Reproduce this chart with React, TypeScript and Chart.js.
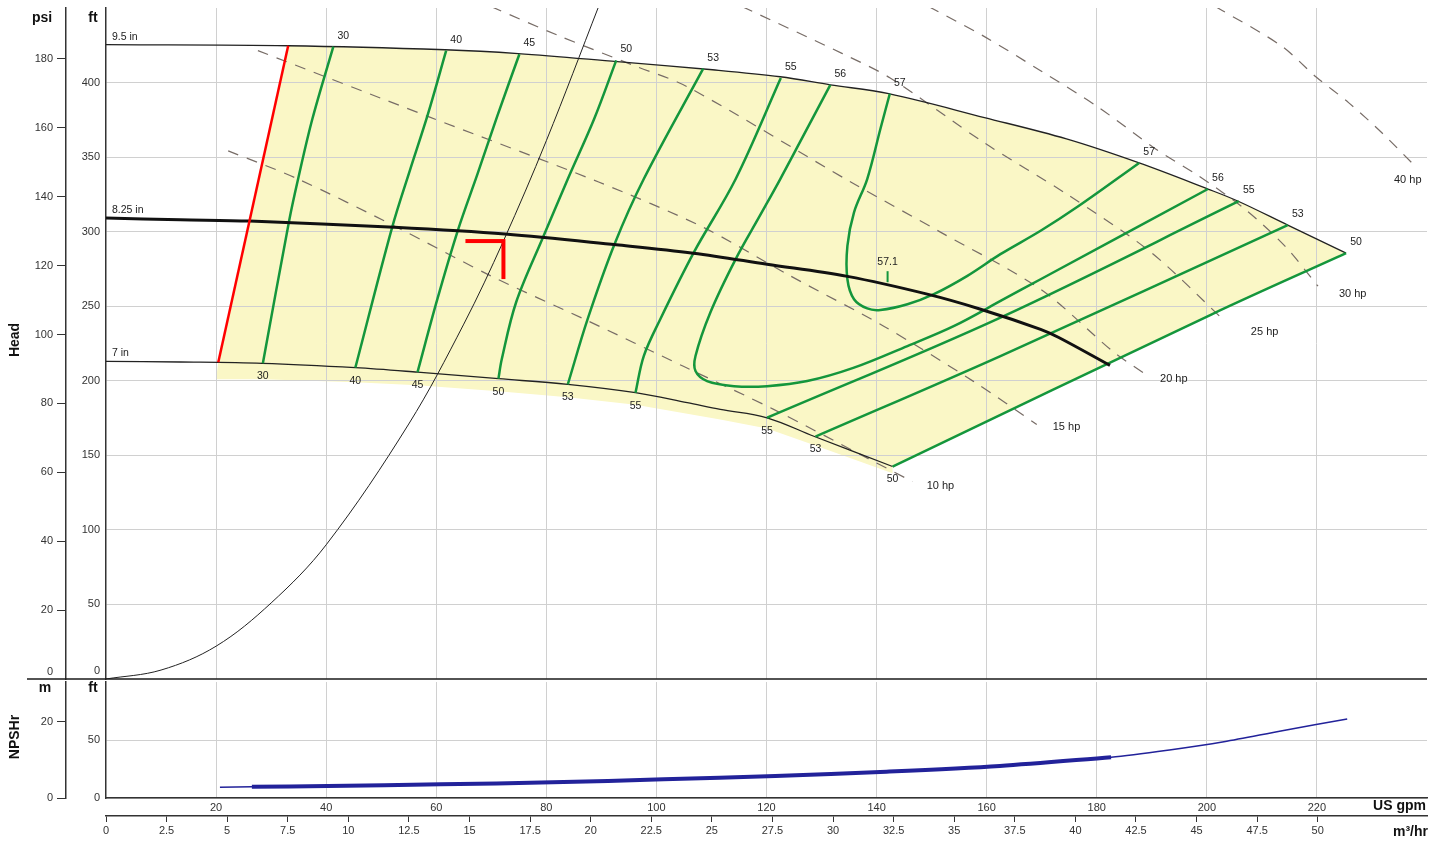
import React, { useEffect, useRef } from 'react';
import { Chart, registerables } from 'chart.js';

Chart.register(...registerables);

type P = [number, number];

// ---------- unit conversions ----------
const FT_PER_PSI = 2.31;
const FT_PER_M = 3.281;
const M3H_PER_GPM = 0.22712;

// ---------- axis ranges & ticks ----------
const FLOW_MAX = 240; // US gpm
const HEAD_MAX = 450; // ft
const NPSH_MAX = 100; // ft
const gpmTicks = [20, 40, 60, 80, 100, 120, 140, 160, 180, 200, 220];
const ftTicks = [50, 100, 150, 200, 250, 300, 350, 400];
const psiTicks = [20, 40, 60, 80, 100, 120, 140, 160, 180];
const npshFtTicks = [0, 50];
const npshMTicks = [0, 20];
const m3hTicks = [0, 2.5, 5, 7.5, 10, 12.5, 15, 17.5, 20, 22.5, 25, 27.5, 30, 32.5, 35, 37.5, 40, 42.5, 45, 47.5, 50];

// ---------- head curves (gpm, ft) ----------
const head95: P[] = [[0, 425.4], [33.1, 424.7], [61.6, 422.0], [74.9, 419.4], [92.9, 414.0], [110.2, 408.6], [122.5, 403.9], [131.6, 398.5], [142.2, 392.5], [159.6, 376.5], [174.5, 362.2], [187.7, 346.1], [200.2, 328.6], [205.7, 320.4], [214.7, 304.4], [225.3, 285.6]];
const head825: P[] = [[0, 309.1], [13.5, 308.0], [26.1, 307.1], [52.4, 302.9], [72.5, 298.4], [92.7, 291.2], [106.7, 285.6], [120.1, 278.2], [134.7, 270.0], [149.2, 258.1], [158.9, 248.0], [169.8, 234.5], [173.1, 229.0], [182.4, 210.3]];
const head7: P[] = [[0, 213.0], [13.5, 212.6], [28.4, 211.7], [45.3, 208.8], [56.6, 205.8], [71.3, 201.4], [83.9, 197.6], [96.2, 192.0], [105.6, 185.3], [111.6, 180.8], [120.1, 175.2], [128.6, 162.8], [142.9, 142.5]];
const headNames = ['9.5 in', '8.25 in', '7 in'];

// minimum flow line
const minFlow: P[] = [[20.4, 212.4], [33.1, 424.7]];
// lower edge of the shaded region
const regionLower: P[] = [[142.9, 138], [128.6, 157], [120.1, 168], [111.6, 174], [96.2, 184], [83.9, 189], [71.3, 193], [56.6, 197], [45.3, 199], [28.4, 201], [20.0, 201]];

// system curve
const systemCurve: P[] = [[0, 0], [10, 6], [20, 22], [30, 51], [40, 90], [55, 171], [65, 238], [72.2, 293.7], [80, 361], [89.5, 451]];
// duty point
const duty: P[] = [[72.2, 293.7]];
// BEP marker
const bepTick: P[] = [[142.0, 266.1], [142.0, 273.5]];
const bepLabel = '57.1';

// ---------- efficiency lines (%) ----------
const eff30: P[] = [[28.5, 211.7], [33.3, 307.8], [34.9, 335.3], [37.5, 375.7], [41.3, 424.1]];
const eff40: P[] = [[45.3, 208.8], [52.0, 303.1], [55.3, 342.1], [58.5, 379.0], [61.8, 421.4]];
const eff45: P[] = [[56.6, 205.8], [60.2, 254.7], [64.0, 301.7], [67.5, 338.7], [71.1, 377.7], [75.1, 419.0]];
const eff50L: P[] = [[71.3, 201.4], [71.9, 214.4], [74.5, 252.5], [79.4, 296.2], [83.9, 335.3], [88.7, 375.7], [92.7, 414.9]];
const eff53L: P[] = [[83.9, 197.6], [87.5, 241.3], [92.4, 291.7], [97.7, 335.3], [108.5, 409.3]];
const eff55L: P[] = [[96.2, 192.0], [97.7, 216.6], [100.7, 241.3], [106.8, 286.1], [114.4, 335.3], [122.6, 403.0]];
const eff56: P[] = [[131.6, 398.5], [126.0, 359.5], [122.5, 335.3], [118.8, 310.7], [114.4, 281.6], [109.8, 245.8], [107.1, 216.6], [107.1, 206.5], [109.2, 199.8], [114.1, 196.4], [120.1, 196.4], [127.4, 199.8], [135.9, 208.8], [145.6, 223.3], [154.1, 236.8], [163.1, 254.7], [169.8, 268.1], [200.2, 328.6]];
const eff57: P[] = [[142.4, 392.5], [140.7, 369.0], [138.3, 335.3], [135.9, 313.0], [134.7, 290.5], [134.7, 268.1], [135.9, 254.7], [138.3, 248.5], [140.7, 247.5], [145.6, 251.3], [150.4, 258.1], [156.5, 270.4], [162.5, 284.9], [169.8, 300.6], [176.7, 317.2], [187.7, 346.1]];
const eff55R: P[] = [[120.1, 175.2], [162.5, 242.4], [205.8, 320.4]];
const eff53R: P[] = [[128.9, 162.6], [162.5, 216.6], [214.7, 304.4]];
const eff50R: P[] = [[142.9, 142.5], [200.9, 244.6], [225.3, 285.6]];

const effLines: { name: string; data: P[]; ends: string }[] = [
  { name: '30', data: eff30, ends: 'bt' },
  { name: '40', data: eff40, ends: 'bt' },
  { name: '45', data: eff45, ends: 'bt' },
  { name: '50', data: eff50L, ends: 'bt' },
  { name: '53', data: eff53L, ends: 'bt' },
  { name: '55', data: eff55L, ends: 'bt' },
  { name: '56', data: eff56, ends: 'tt' },
  { name: '57', data: eff57, ends: 'tt' },
  { name: '55', data: eff55R, ends: 'bt' },
  { name: '53', data: eff53R, ends: 'bt' },
  { name: '50', data: eff50R, ends: 'bt' },
];

// ---------- power lines (hp) ----------
const hp10: P[] = [[22.2, 354.2], [34.9, 335.3], [52.4, 303.8], [70.0, 270.2], [86.9, 241.3], [104.9, 209.7], [121.3, 180.8], [138.5, 147.8], [146.5, 132.4]];
const hp15: P[] = [[27.6, 421.4], [58.7, 377.0], [89.5, 333.3], [108.4, 303.1], [124.4, 270.2], [141.3, 236.6], [157.6, 199.6], [169.1, 170.7]];
const hp20: P[] = [[70.0, 450.9], [82.2, 431.5], [96.0, 411.3], [105.6, 397.2], [135.3, 333.3], [151.6, 299.7], [169.8, 261.4], [182.9, 219.8], [188.9, 204.3]];
const hp25: P[] = [[115.6, 450.9], [133.8, 419.4], [142.4, 403.2], [159.6, 359.5], [174.5, 325.3], [189.8, 286.3], [203.3, 239.9]];
const hp30: P[] = [[149.5, 450.9], [159.6, 430.8], [169.8, 407.9], [180.2, 383.7], [190.7, 355.5], [198.5, 337.4], [206.9, 315.2], [214.2, 290.3], [220.2, 263.4]];
const hp40: P[] = [[201.6, 450.9], [213.5, 424.7], [219.8, 403.9], [225.8, 386.4], [231.8, 366.3], [237.8, 344.1]];
const hpLines = [hp10, hp15, hp20, hp25, hp30, hp40];
const hpNames = ['10 hp', '15 hp', '20 hp', '25 hp', '30 hp', '40 hp'];
const hpLabelAt: P[] = [[149.1, 129.7], [172.0, 168.7], [191.5, 200.9], [208.0, 232.5], [224.0, 258.1], [234.0, 334.7]];

// ---------- NPSHr (gpm, ft) ----------
const npshr: P[] = [[20.7, 9.2], [26.5, 9.7], [40.3, 10.3], [60.8, 11.8], [81.1, 13.5], [101.3, 16.1], [121.6, 19.0], [141.8, 22.7], [162.4, 27.6], [182.6, 35.1], [193.2, 41.4], [203.1, 48.5], [213.7, 58.0], [225.5, 68.1]];
const npshBoldRange: P = [26.5, 182.6];

// ---------- styles ----------
const FONT = '"Liberation Sans", Arial, Helvetica, sans-serif';
const GRID = '#d0d0d0';
const AXIS = '#333333';
const GREEN = '#14963c';
const YELLOW = '#faf7c6';
const DASH = '#776c66';
const NAVY = '#22229a';

Chart.defaults.font.family = FONT;
Chart.defaults.font.size = 11;
Chart.defaults.color = '#333';

const pts = (a: P[]) => a.map(([x, y]) => ({ x, y }));
const fixW = (w: number) => (s: any) => {
  s.width = w;
  s.paddingTop = 0;
  s.paddingBottom = 0;
};
const fixH = (h: number) => (s: any) => {
  s.height = h;
  s.paddingLeft = 0;
  s.paddingRight = 0;
};
const setTicks = (vals: number[]) => (s: any) => { s.ticks = vals.map((v) => ({ value: v })); };
const fmt = (v: any) => String(v);

function makeDutyMarker() {
  const c = document.createElement('canvas');
  c.width = 84;
  c.height = 84;
  const g = c.getContext('2d')!;
  g.strokeStyle = '#ff0000';
  g.lineWidth = 4;
  g.lineJoin = 'miter';
  g.beginPath();
  g.moveTo(4, 42);
  g.lineTo(42, 42);
  g.lineTo(42, 80);
  g.stroke();
  return c;
}

const line = (data: P[], color: string, width: number, order: number, extra: any = {}) => ({
  data: pts(data),
  borderColor: color,
  borderWidth: width,
  pointRadius: 0,
  fill: false,
  tension: 0.35,
  order,
  ...extra,
});

const topPlugin = {
  id: 'topAnnotations',
  afterDraw(chart: any) {
    const { ctx, chartArea: ca, scales } = chart;
    const X = (q: number) => scales.x.getPixelForValue(q);
    const Y = (h: number) => scales.y.getPixelForValue(h);
    ctx.save();
    // separator between head and NPSH panels
    ctx.strokeStyle = '#1a1a1a';
    ctx.lineWidth = 1.5;
    ctx.beginPath();
    ctx.moveTo(27, ca.bottom);
    ctx.lineTo(ca.right, ca.bottom);
    ctx.stroke();

    // axis headers
    ctx.fillStyle = '#111';
    ctx.font = `bold 14px ${FONT}`;
    ctx.textAlign = 'center';
    ctx.textBaseline = 'middle';
    ctx.fillText('psi', 42, 18);
    ctx.fillText('ft', 93, 18);
    ctx.save();
    ctx.translate(15, 340);
    ctx.rotate(-Math.PI / 2);
    ctx.fillText('Head', 0, 0);
    ctx.restore();

    // zero labels sit above the separator
    ctx.font = `11px ${FONT}`;
    ctx.fillStyle = '#333';
    ctx.textAlign = 'right';
    ctx.fillText('0', scales.ypsi.right - 13, ca.bottom - 7);
    ctx.fillText('0', scales.y.right - 6, ca.bottom - 8);

    // head curve labels
    ctx.textAlign = 'left';
    ctx.font = `10.5px ${FONT}`;
    ctx.fillStyle = '#222';
    [head95, head825, head7].forEach((c, i) => {
      ctx.fillText(headNames[i], X(c[0][0]) + 6, Y(c[0][1]) - 8);
    });

    // efficiency labels
    ctx.textAlign = 'center';
    effLines.forEach((l) => {
      const ends = [l.data[0], l.data[l.data.length - 1]];
      ends.forEach((p, k) => {
        const kind = l.ends[k];
        if (kind === 't') ctx.fillText(l.name, X(p[0]) + 10, Y(p[1]) - 11);
        else ctx.fillText(l.name, X(p[0]), Y(p[1]) + 13);
      });
    });
    // BEP label
    ctx.fillText(bepLabel, X(bepTick[1][0]), Y(bepTick[1][1]) - 9);

    // power labels
    ctx.textAlign = 'left';
    ctx.font = `11px ${FONT}`;
    hpNames.forEach((n, i) => {
      ctx.fillText(n, X(hpLabelAt[i][0]), Y(hpLabelAt[i][1]));
    });
    ctx.restore();
  },
};

const bottomPlugin = {
  id: 'bottomAnnotations',
  afterDraw(chart: any) {
    const { ctx, chartArea: ca } = chart;
    ctx.save();
    ctx.fillStyle = '#111';
    ctx.font = `bold 14px ${FONT}`;
    ctx.textAlign = 'center';
    ctx.textBaseline = 'middle';
    ctx.fillText('m', 45, ca.top + 6);
    ctx.fillText('ft', 93, ca.top + 6);
    ctx.save();
    ctx.translate(15, 65);
    ctx.rotate(-Math.PI / 2);
    ctx.fillText('NPSHr', 0, 0);
    ctx.restore();
    ctx.textAlign = 'right';
    ctx.fillText('US gpm', 1426, ca.bottom + 8);
    ctx.fillText('m\u00b3/hr', 1428, ca.bottom + 34);
    ctx.restore();
  },
};

export default function App() {
  const topRef = useRef<HTMLCanvasElement>(null);
  const botRef = useRef<HTMLCanvasElement>(null);

  useEffect(() => {
    const region: P[] = [
      ...minFlow,
      ...head95.filter((p) => p[0] > minFlow[1][0]),
      ...eff50R.slice(0, -1).reverse(),
      ...regionLower,
    ];

    const datasets: any[] = [];
    datasets.push({
      data: pts(region),
      fill: 'shape',
      backgroundColor: YELLOW,
      borderColor: 'rgba(0,0,0,0)',
      borderWidth: 0,
      pointRadius: 0,
      tension: 0,
      order: 100,
    });
    hpLines.forEach((h) => datasets.push(line(h, DASH, 1.2, 90, { borderDash: [11, 9], tension: 0.3 })));
    datasets.push(line(systemCurve, '#222', 1, 80));
    datasets.push(line(head95, '#222', 1.3, 70));
    datasets.push(line(head7, '#222', 1.3, 70));
    effLines.forEach((l) => datasets.push(line(l.data, GREEN, 2.5, 60)));
    datasets.push(line(head825, '#111', 3, 50));
    datasets.push(line(minFlow, '#ff0000', 2.5, 40, { tension: 0 }));
    datasets.push(line(bepTick, GREEN, 2, 30, { tension: 0 }));
    datasets.push({
      data: pts(duty),
      showLine: false,
      pointStyle: makeDutyMarker(),
      pointRadius: 5,
      order: 10,
    });

    const top = new Chart(topRef.current!, {
      type: 'line',
      data: { datasets },
      options: {
        responsive: false,
        animation: false,
        events: [],
        layout: { padding: { top: 8, right: 18, left: 0, bottom: 0 } },
        plugins: {
          legend: { display: false },
          tooltip: { enabled: false },
          filler: { propagate: false, drawTime: 'beforeDraw' },
        },
        scales: {
          x: {
            type: 'linear', min: 0, max: FLOW_MAX,
            afterBuildTicks: setTicks(gpmTicks), afterFit: fixH(11),
            ticks: { display: false },
            grid: { color: GRID, drawTicks: false },
            border: { display: false },
          },
          y: {
            type: 'linear', position: 'left', weight: 0, min: 0, max: HEAD_MAX,
            afterBuildTicks: setTicks(ftTicks), afterFit: fixW(40),
            ticks: { padding: 6, callback: fmt, color: '#333' },
            grid: { color: GRID, drawTicks: false },
            border: { display: true, color: AXIS, width: 1.5 },
          },
          ypsi: {
            type: 'linear', position: 'left', weight: 1, min: 0, max: HEAD_MAX / FT_PER_PSI,
            afterBuildTicks: setTicks(psiTicks), afterFit: fixW(66),
            ticks: { padding: 4, callback: fmt, color: '#333' },
            grid: { drawOnChartArea: false, drawTicks: true, tickLength: 9, color: AXIS },
            border: { display: true, color: AXIS, width: 1.5 },
          },
        },
      } as any,
      plugins: [topPlugin],
    });

    const bold = npshr.filter((p) => p[0] >= npshBoldRange[0] && p[0] <= npshBoldRange[1]);
    const bot = new Chart(botRef.current!, {
      type: 'line',
      data: {
        datasets: [
          line(npshr, NAVY, 1.5, 20, { tension: 0.3 }),
          line(bold, NAVY, 4, 10, { tension: 0.3 }),
        ],
      },
      options: {
        responsive: false,
        animation: false,
        events: [],
        layout: { padding: { top: 10, right: 18, left: 0, bottom: 0 } },
        plugins: { legend: { display: false }, tooltip: { enabled: false } },
        scales: {
          x: {
            type: 'linear', position: 'bottom', weight: 0, min: 0, max: FLOW_MAX,
            afterBuildTicks: setTicks(gpmTicks), afterFit: fixH(18),
            ticks: { padding: 3, callback: fmt, autoSkip: false, maxRotation: 0, color: '#333' },
            grid: { color: GRID, drawTicks: false },
            border: { display: true, color: AXIS, width: 1.5 },
          },
          xm: {
            type: 'linear', position: 'bottom', weight: 1, min: 0, max: FLOW_MAX * M3H_PER_GPM,
            afterBuildTicks: setTicks(m3hTicks), afterFit: fixH(29),
            ticks: { padding: 2, callback: fmt, autoSkip: false, maxRotation: 0, color: '#333' },
            grid: { drawOnChartArea: false, drawTicks: true, tickLength: 6, color: AXIS },
            border: { display: true, color: AXIS, width: 1.5 },
          },
          y: {
            type: 'linear', position: 'left', weight: 0, min: 0, max: NPSH_MAX,
            afterBuildTicks: setTicks(npshFtTicks), afterFit: fixW(40),
            ticks: { padding: 6, callback: fmt, color: '#333' },
            grid: { color: GRID, drawTicks: false },
            border: { display: true, color: AXIS, width: 1.5 },
          },
          ym: {
            type: 'linear', position: 'left', weight: 1, min: 0, max: NPSH_MAX / FT_PER_M,
            afterBuildTicks: setTicks(npshMTicks), afterFit: fixW(66),
            ticks: { padding: 4, callback: fmt, color: '#333' },
            grid: { drawOnChartArea: false, drawTicks: true, tickLength: 9, color: AXIS },
            border: { display: true, color: AXIS, width: 1.5 },
          },
        },
      } as any,
      plugins: [bottomPlugin],
    });

    return () => {
      top.destroy();
      bot.destroy();
    };
  }, []);

  return (
    <div style={{ position: 'absolute', left: 0, top: 0, width: 1445, height: 845, background: '#fff' }}>
      <canvas ref={topRef} width={1445} height={690} style={{ position: 'absolute', left: 0, top: 0 }} />
      <canvas ref={botRef} width={1445} height={173} style={{ position: 'absolute', left: 0, top: 672 }} />
    </div>
  );
}
